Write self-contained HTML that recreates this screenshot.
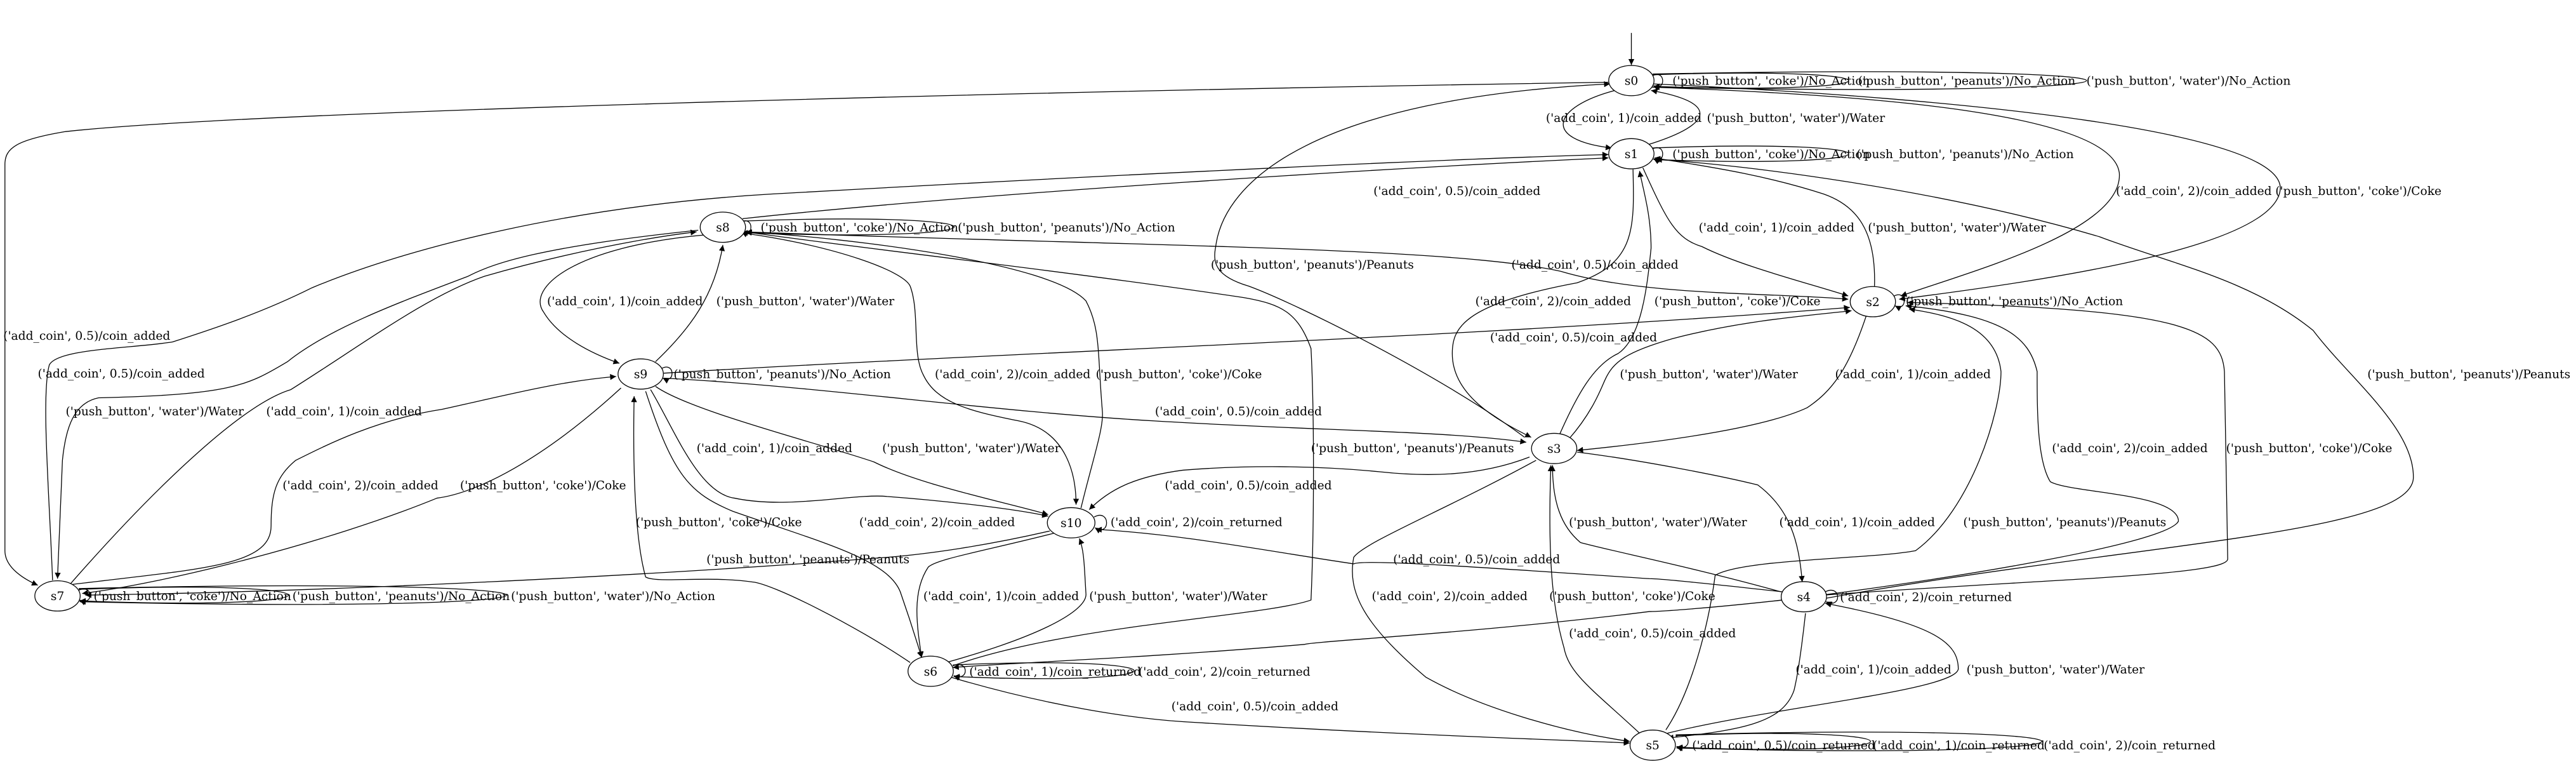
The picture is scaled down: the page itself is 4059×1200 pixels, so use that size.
<!DOCTYPE html>
<html><head><meta charset="utf-8"><style>
html,body{margin:0;padding:0;background:#fff;}
svg{display:block;}
text{font-family:"DejaVu Serif","Liberation Serif",serif;font-size:7.2px;fill:#000;}
.n{text-anchor:middle;}
path,line{fill:none;stroke:#000;stroke-width:0.5;}
ellipse{fill:#fff;stroke:#000;stroke-width:0.5;}
</style></head><body>
<svg width="4059" height="1200" viewBox="0 0 1568 463.5" xmlns="http://www.w3.org/2000/svg">
<defs><marker id="a" viewBox="0 0 10 10" refX="10" refY="5" markerUnits="userSpaceOnUse" markerWidth="4.6" markerHeight="3.6" orient="auto"><path d="M0,0 L10,5 L0,10z" style="fill:#000;stroke:none"/></marker></defs>
<g marker-end="url(#a)">
<path d="M993,20 L993,39.5"/>
<!-- s0 -->
<path d="M983,55 C945,65 938,85 981,90"/>
<path d="M1003,88 C1045,75 1045,62 1005,55"/>
<path d="M979,50 C600,56 150,68 40,80 C10,85 3,90 3,100 L3,335 C3,345 14,352 23,356"/>
<path d="M1005,53 C1150,58 1285,70 1290,105 C1293,140 1200,165 1157,180"/>
<path d="M1006,51 C1200,60 1390,80 1388,115 C1385,150 1250,170 1156,182"/>
<path d="M928,266 C880,230 790,185 760,174 C740,168 738,160 740,150 C745,110 800,60 980,51"/>
<!-- s1 -->
<path d="M32,353 C30,300 25,240 30,222 C35,212 80,212 105,208 C130,200 160,190 190,175 C250,150 350,125 470,118 C700,105 900,96 979,94"/>
<path d="M452,133 C600,117 850,102 979,96"/>
<path d="M1000,102 C1015,135 1020,145 1036,150 C1060,162 1100,172 1125,180"/>
<path d="M1141,174 C1142,140 1130,125 1110,118 C1070,105 1030,100 1007,96"/>
<path d="M994,103 C995,140 995,160 960,172 C890,185 884,200 884,215 C884,240 910,255 932,266"/>
<path d="M949,265 C960,240 970,222 985,215 C1000,205 1003,170 1005,151 C1005,130 1000,115 998,104"/>
<path d="M1111,364 C1300,330 1470,325 1469,290 C1469,260 1430,230 1408,201 C1370,170 1320,160 1278,144 C1180,115 1060,100 1008,97"/>
<!-- s8 -->
<path d="M425,140 C330,150 300,160 285,168 C240,185 200,200 175,220 C150,235 140,240 60,242 C45,245 40,260 38,280 L35,352"/>
<path d="M43,355 C100,290 150,245 177,237 C220,210 260,180 295,168 C340,155 390,145 424,141"/>
<path d="M452,141 C700,150 880,150 950,165 C1000,180 1080,178 1125,182"/>
<path d="M428,143 C350,150 320,175 331,190 C340,205 360,215 377,221"/>
<path d="M399,220 C420,200 435,180 440,149"/>
<path d="M454,142 C510,150 550,165 554,174 C560,190 555,215 562,228 C570,245 590,250 620,256 C650,262 655,290 655,307"/>
<path d="M658,309 C665,280 672,260 671,250 C668,215 670,200 661,183 C640,160 520,145 454,141"/>
<path d="M580,405 C650,380 770,375 798,365 C800,320 800,250 798,212 C790,190 780,185 757,181 C650,165 500,148 454,141"/>
<!-- s9 / s2 / s3 -->
<path d="M404,227 C600,215 900,205 1126,187"/>
<path d="M404,230 C500,235 600,250 702,256 C800,262 880,262 929,269"/>
<path d="M955,267 C970,250 975,235 977,231 C982,220 990,214 1018,206 C1060,195 1100,192 1127,189"/>
<path d="M1136,192 C1125,225 1115,238 1100,248 C1070,262 1000,270 960,274"/>
<path d="M931,278 C900,290 868,290 840,287 C800,283 757,283 720,286 C690,290 675,298 663,310"/>
<path d="M396,237 C410,260 425,300 447,303 C480,310 520,300 540,302 C580,305 620,310 638,314"/>
<path d="M399,235 C420,250 500,270 532,281 C560,295 610,305 638,313"/>
<path d="M393,238 C410,290 420,300 446,311 C500,330 540,340 548,360 C555,380 558,390 561,400"/>
<path d="M554,403 C520,380 470,355 458,354 C430,350 400,355 393,351 C387,330 385,290 386,241"/>
<path d="M40,356 C120,346 165,345 165,320 C165,300 168,290 180,280 C200,270 230,255 269,249 C310,240 340,232 375,229"/>
<path d="M378,236 C330,280 290,300 266,303 C200,330 100,355 50,361"/>
<!-- s10 -->
<path d="M639,323 C600,332 565,337 540,339 C400,350 200,360 52,362"/>
<path d="M643,324 C600,335 570,340 565,345 C555,360 558,380 561,400"/>
<path d="M576,403 C640,385 662,370 661,361 C660,345 660,335 657,327.5"/>
<path d="M1085,360 C1040,355 1010,352 1004,352 C900,345 830,340 824,343 C770,335 720,325 667,322"/>
<path d="M1085,365 C1040,370 1010,372 1004,372 C900,385 800,390 794,392 C700,400 620,403 580,406"/>
<path d="M579,412 C640,430 690,437 720,439 C850,447 950,450 992,452"/>
<!-- s3 / s4 / s5 -->
<path d="M935,280 C880,310 830,330 824,339 C820,360 830,380 868,412 C900,430 950,445 992,451"/>
<path d="M998,446 C970,420 955,410 952,394 C945,370 942,340 944,283"/>
<path d="M1084,360 C1030,345 980,335 962,330 C950,320 945,305 945,283"/>
<path d="M960,275 C1000,280 1050,290 1070,295 C1090,310 1095,330 1097,354"/>
<path d="M1014,444 C1030,420 1040,380 1044,350 C1060,340 1140,340 1166,335 C1200,310 1218,250 1218,226 C1215,200 1190,192 1162,188"/>
<path d="M1109,362 C1200,350 1320,330 1326,317 C1326,300 1260,300 1248,293 C1240,280 1240,250 1240,226 C1235,205 1220,192 1160,186"/>
<path d="M1110,362 C1250,352 1356,350 1356,340 L1354,226 C1352,200 1330,188 1161,184"/>
<path d="M1099,373 C1096,400 1094,412 1092,420 C1085,440 1060,444 1015,449"/>
<path d="M1015,446 C1080,430 1190,420 1192,407 C1192,392 1180,380 1111,367"/>
<!-- self loops -->
<path d="M1006,46 C1014,42 1014,56 1006.5,52"/>
<path d="M1006,45.5 C1165,40 1165,58 1006.5,52.5"/>
<path d="M1006,45 C1358,38 1358,60 1006.5,53"/>
<path d="M1006,90.5 C1014,86.5 1014,100.5 1006.5,96.5"/>
<path d="M1006,90 C1165,84 1165,103 1006.5,97"/>
<path d="M451,135 C459,131 459,145 451.5,141"/>
<path d="M451,134.5 C624,128 624,148 451.5,141.5"/>
<path d="M1153,180 C1161,176 1161,190 1153.5,186"/>
<path d="M403,224 C411,220 411,234 403.5,230"/>
<path d="M666,314.5 C676,309 676,327 666.5,321"/>
<path d="M48,359 C57,355 57,369 48.5,365"/>
<path d="M48,358.5 C218,352 218,372 48.5,365.5"/>
<path d="M48,358 C395,350 395,374 48.5,366"/>
<path d="M1111,360 C1121,355 1121,371 1111.5,366"/>
<path d="M580,405 C590,401 590,415 580.5,411"/>
<path d="M580,404.5 C727,398 727,418 580.5,411.5"/>
<path d="M1020,448 C1030,444 1030,458 1020.5,454"/>
<path d="M1020,447.5 C1178,441 1178,461 1020.5,454.5"/>
<path d="M1020,447 C1317,439 1317,463 1020.5,455"/>
</g>
<!-- nodes -->
<ellipse cx="993" cy="49" rx="13.8" ry="9.2"/><text class="n" x="993" y="51.6">s0</text>
<ellipse cx="993" cy="93.5" rx="13.8" ry="9.2"/><text class="n" x="993" y="96.1">s1</text>
<ellipse cx="440" cy="138.2" rx="13.8" ry="9.2"/><text class="n" x="440" y="140.8">s8</text>
<ellipse cx="1140" cy="183.5" rx="13.8" ry="9.2"/><text class="n" x="1140" y="186.1">s2</text>
<ellipse cx="390" cy="227.5" rx="13.8" ry="9.2"/><text class="n" x="390" y="230.1">s9</text>
<ellipse cx="946" cy="272.8" rx="13.8" ry="9.2"/><text class="n" x="946" y="275.4">s3</text>
<ellipse cx="652" cy="318" rx="14.5" ry="9.2"/><text class="n" x="652" y="320.6">s10</text>
<ellipse cx="35" cy="362.5" rx="13.8" ry="9.2"/><text class="n" x="35" y="365.1">s7</text>
<ellipse cx="1098" cy="363" rx="13.8" ry="9.2"/><text class="n" x="1098" y="365.6">s4</text>
<ellipse cx="566.5" cy="408.3" rx="13.8" ry="9.2"/><text class="n" x="566.5" y="410.9">s6</text>
<ellipse cx="1006" cy="453.3" rx="13.8" ry="9.2"/><text class="n" x="1006" y="455.9">s5</text>
<!-- labels -->
<g>
<text x="1018" y="51.6">('push_button', 'coke')/No_Action</text>
<text x="1131" y="51.6">('push_button', 'peanuts')/No_Action</text>
<text x="1270" y="51.6">('push_button', 'water')/No_Action</text>
<text x="941" y="74.1">('add_coin', 1)/coin_added</text>
<text x="1039" y="74.1">('push_button', 'water')/Water</text>
<text x="1018" y="96.1">('push_button', 'coke')/No_Action</text>
<text x="1130" y="96.1">('push_button', 'peanuts')/No_Action</text>
<text x="836" y="118.6">('add_coin', 0.5)/coin_added</text>
<text x="1288" y="118.6">('add_coin', 2)/coin_added</text>
<text x="1385" y="118.6">('push_button', 'coke')/Coke</text>
<text x="463" y="140.8">('push_button', 'coke')/No_Action</text>
<text x="583" y="140.8">('push_button', 'peanuts')/No_Action</text>
<text x="1034" y="140.8">('add_coin', 1)/coin_added</text>
<text x="1137" y="140.8">('push_button', 'water')/Water</text>
<text x="737" y="163.3">('push_button', 'peanuts')/Peanuts</text>
<text x="920" y="163.3">('add_coin', 0.5)/coin_added</text>
<text x="333" y="185.6">('add_coin', 1)/coin_added</text>
<text x="436" y="185.6">('push_button', 'water')/Water</text>
<text x="898" y="185.6">('add_coin', 2)/coin_added</text>
<text x="1007" y="185.6">('push_button', 'coke')/Coke</text>
<text x="1160" y="185.6">('push_button', 'peanuts')/No_Action</text>
<text x="907" y="207.6">('add_coin', 0.5)/coin_added</text>
<text x="2" y="206.6">('add_coin', 0.5)/coin_added</text>
<text x="23" y="229.6">('add_coin', 0.5)/coin_added</text>
<text x="410" y="230.1">('push_button', 'peanuts')/No_Action</text>
<text x="569" y="230.1">('add_coin', 2)/coin_added</text>
<text x="667" y="230.1">('push_button', 'coke')/Coke</text>
<text x="986" y="230.1">('push_button', 'water')/Water</text>
<text x="1117" y="230.1">('add_coin', 1)/coin_added</text>
<text x="1441" y="230.1">('push_button', 'peanuts')/Peanuts</text>
<text x="40" y="252.6">('push_button', 'water')/Water</text>
<text x="162" y="252.6">('add_coin', 1)/coin_added</text>
<text x="703" y="252.6">('add_coin', 0.5)/coin_added</text>
<text x="424" y="275.1">('add_coin', 1)/coin_added</text>
<text x="537" y="275.1">('push_button', 'water')/Water</text>
<text x="798" y="275.1">('push_button', 'peanuts')/Peanuts</text>
<text x="1249" y="275.1">('add_coin', 2)/coin_added</text>
<text x="1355" y="275.1">('push_button', 'coke')/Coke</text>
<text x="172" y="297.6">('add_coin', 2)/coin_added</text>
<text x="280" y="297.6">('push_button', 'coke')/Coke</text>
<text x="709" y="297.6">('add_coin', 0.5)/coin_added</text>
<text x="387" y="320.1">('push_button', 'coke')/Coke</text>
<text x="523" y="320.1">('add_coin', 2)/coin_added</text>
<text x="676" y="320.1">('add_coin', 2)/coin_returned</text>
<text x="955" y="320.1">('push_button', 'water')/Water</text>
<text x="1083" y="320.1">('add_coin', 1)/coin_added</text>
<text x="1195" y="320.1">('push_button', 'peanuts')/Peanuts</text>
<text x="430" y="342.6">('push_button', 'peanuts')/Peanuts</text>
<text x="848" y="342.6">('add_coin', 0.5)/coin_added</text>
<text x="57" y="365.1">('push_button', 'coke')/No_Action</text>
<text x="178" y="365.1">('push_button', 'peanuts')/No_Action</text>
<text x="311" y="365.1">('push_button', 'water')/No_Action</text>
<text x="562" y="365.1">('add_coin', 1)/coin_added</text>
<text x="663" y="365.1">('push_button', 'water')/Water</text>
<text x="835" y="365.1">('add_coin', 2)/coin_added</text>
<text x="943" y="365.1">('push_button', 'coke')/Coke</text>
<text x="1120" y="365.6">('add_coin', 2)/coin_returned</text>
<text x="955" y="387.6">('add_coin', 0.5)/coin_added</text>
<text x="590" y="410.9">('add_coin', 1)/coin_returned</text>
<text x="693" y="410.9">('add_coin', 2)/coin_returned</text>
<text x="1093" y="409.6">('add_coin', 1)/coin_added</text>
<text x="1197" y="409.6">('push_button', 'water')/Water</text>
<text x="713" y="432.1">('add_coin', 0.5)/coin_added</text>
<text x="1030" y="455.9">('add_coin', 0.5)/coin_returned</text>
<text x="1140" y="455.9">('add_coin', 1)/coin_returned</text>
<text x="1244" y="455.9">('add_coin', 2)/coin_returned</text>
</g>
</svg>
</body></html>
